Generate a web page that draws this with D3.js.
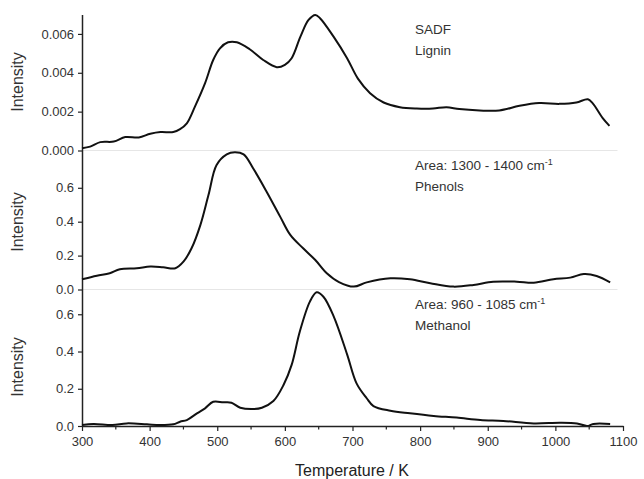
<!DOCTYPE html>
<html>
<head>
<meta charset="utf-8">
<script src="https://cdn.jsdelivr.net/npm/d3@7"></script>
<style>
  body { margin: 0; background: #fff; }
  svg text { font-family: Arial, "Liberation Sans", sans-serif; }
</style>
</head>
<body>
<div id="chart"></div>
<script>
var width = 644;
var height = 479;

// Lignin (top panel)
var ligninT = [300, 312, 327, 347, 364, 384, 401, 416, 435, 445, 455, 467, 482, 494, 504, 516, 529, 548, 568, 588, 600, 610, 623, 635, 645, 652, 672, 692, 708, 726, 746, 770, 795, 819, 839, 858, 888, 917, 947, 976, 1006, 1031, 1048, 1055, 1070, 1080];
var ligninI = [0.00012, 0.0002, 0.00043, 0.00046, 0.00069, 0.00067, 0.00086, 0.00095, 0.00095, 0.0011, 0.0014, 0.00226, 0.00347, 0.00466, 0.00526, 0.00557, 0.00557, 0.00521, 0.00466, 0.00429, 0.00441, 0.00475, 0.00586, 0.00672, 0.00698, 0.00681, 0.00586, 0.00475, 0.0037, 0.00295, 0.00247, 0.00223, 0.00216, 0.00216, 0.00223, 0.00213, 0.00206, 0.00206, 0.0023, 0.00244, 0.0024, 0.00247, 0.00264, 0.00244, 0.00167, 0.00127];

// Phenols (middle panel)
var phenolT = [300, 322, 341, 356, 381, 401, 420, 438, 450, 462, 475, 487, 499, 514, 526, 539, 553, 573, 593, 608, 627, 645, 662, 680, 702, 721, 756, 785, 815, 849, 879, 908, 943, 968, 997, 1022, 1042, 1061, 1081];
var phenolI = [0.06, 0.081, 0.096, 0.119, 0.125, 0.135, 0.131, 0.125, 0.164, 0.243, 0.38, 0.557, 0.734, 0.797, 0.809, 0.797, 0.715, 0.577, 0.43, 0.322, 0.243, 0.174, 0.096, 0.044, 0.017, 0.042, 0.066, 0.06, 0.037, 0.017, 0.027, 0.046, 0.046, 0.04, 0.06, 0.07, 0.091, 0.08, 0.042];

// Methanol (bottom panel)
var methT = [300, 317, 345, 366, 396, 415, 435, 445, 455, 470, 482, 494, 509, 521, 534, 553, 566, 583, 598, 610, 622, 637, 647, 657, 672, 692, 706, 721, 731, 756, 785, 820, 854, 889, 923, 968, 1007, 1032, 1047, 1056, 1081];
var methI = [0.005, 0.011, 0.005, 0.014, 0.009, 0.005, 0.009, 0.023, 0.032, 0.068, 0.095, 0.13, 0.127, 0.125, 0.098, 0.091, 0.098, 0.134, 0.22, 0.328, 0.506, 0.668, 0.718, 0.694, 0.59, 0.385, 0.229, 0.149, 0.107, 0.082, 0.068, 0.054, 0.045, 0.032, 0.027, 0.014, 0.018, 0.014, 0.0, 0.011, 0.011];

var xTicks = [300, 400, 500, 600, 700, 800, 900, 1000, 1100];
var xMinor = [350, 450, 550, 650, 750, 850, 950, 1050];
var topTicks = [0, 0.002, 0.004, 0.006];
var midTicks = [0, 0.2, 0.4, 0.6];
var botTicks = [0, 0.2, 0.4, 0.6];

var svg = d3.select("#chart")
    .append("svg")
    .attr("width", width)
    .attr("height", height);

var x = d3.scaleLinear().domain([300, 1100]).range([82, 623]);

var panels = [
    { T: ligninT, I: ligninI, y: d3.scaleLinear().domain([0, 0.007]).range([150.5, 14.5]),
      ticks: topTicks, fmt: d3.format(".3f"), lines: ["SADF", "Lignin"], sup: false, mid: 82 },
    { T: phenolT, I: phenolI, y: d3.scaleLinear().domain([0, 0.82]).range([289.5, 150.5]),
      ticks: midTicks, fmt: d3.format(".1f"), lines: ["Area: 1300 - 1400 cm", "Phenols"], sup: true, mid: 222 },
    { T: methT, I: methI, y: d3.scaleLinear().domain([0, 0.733]).range([426, 289.5]),
      ticks: botTicks, fmt: d3.format(".1f"), lines: ["Area: 960 - 1085 cm", "Methanol"], sup: true, mid: 367 }
];

// light separator lines at zero of upper panels
[panels[0], panels[1]].forEach(function(p) {
    svg.append("line")
        .attr("x1", x(300)).attr("x2", x(1080) + 8)
        .attr("y1", p.y(0)).attr("y2", p.y(0))
        .attr("stroke", "#e6e6e6").attr("stroke-width", 1.2);
});

panels.forEach(function(p, k) {
    var ax = svg.append("g")
        .attr("transform", "translate(" + x(300) + ",0)")
        .call(d3.axisLeft(p.y).tickValues(p.ticks).tickFormat(p.fmt).tickSize(4).tickPadding(4).tickSizeOuter(0));
    ax.select(".domain").attr("stroke", "#222").attr("stroke-width", 1.5);
    ax.selectAll(".tick line").attr("stroke", "#222").attr("stroke-width", 1.2);
    ax.selectAll(".tick text").attr("fill", "#333").style("font-size", "13px");

    var line = d3.line()
        .x(function(d, i) { return x(p.T[i]); })
        .y(function(d) { return p.y(d); })
        .curve(d3.curveCatmullRom.alpha(0.5));

    svg.append("path")
        .datum(p.I)
        .attr("d", line)
        .attr("fill", "none")
        .attr("stroke", "#111")
        .attr("stroke-width", 2)
        .attr("stroke-linejoin", "round");

    svg.append("text")
        .attr("transform", "translate(23," + p.mid + ") rotate(-90)")
        .attr("text-anchor", "middle")
        .attr("fill", "#333")
        .style("font-size", "16px")
        .text("Intensity");

    var base = p.y.range()[1] + 19;
    var t1 = svg.append("text")
        .attr("x", 415).attr("y", base)
        .attr("fill", "#333")
        .style("font-size", "13.5px")
        .text(p.lines[0]);
    if (p.sup) {
        t1.append("tspan").attr("dy", -5).style("font-size", "9px").text("-1");
    }
    svg.append("text")
        .attr("x", 415).attr("y", base + 21)
        .attr("fill", "#333")
        .style("font-size", "13.5px")
        .text(p.lines[1]);
});

var yb = panels[2].y(0);
var xAxis = svg.append("g")
    .attr("transform", "translate(0," + yb + ")")
    .call(d3.axisBottom(x).tickValues(xTicks).tickFormat(d3.format("d")).tickSize(5).tickPadding(6).tickSizeOuter(0));
xAxis.select(".domain").attr("stroke", "#222").attr("stroke-width", 1.5);
xAxis.selectAll(".tick line").attr("stroke", "#222").attr("stroke-width", 1.2);
xAxis.selectAll(".tick text").attr("fill", "#333").style("font-size", "13px");

svg.append("g").selectAll("line")
    .data(xMinor)
    .enter()
    .append("line")
    .attr("x1", function(d) { return x(d); })
    .attr("x2", function(d) { return x(d); })
    .attr("y1", yb).attr("y2", yb + 3.5)
    .attr("stroke", "#222").attr("stroke-width", 1.2);

svg.append("text")
    .attr("x", 352).attr("y", 476)
    .attr("text-anchor", "middle")
    .attr("fill", "#222")
    .style("font-size", "16px")
    .text("Temperature / K");
</script>
</body>
</html>
